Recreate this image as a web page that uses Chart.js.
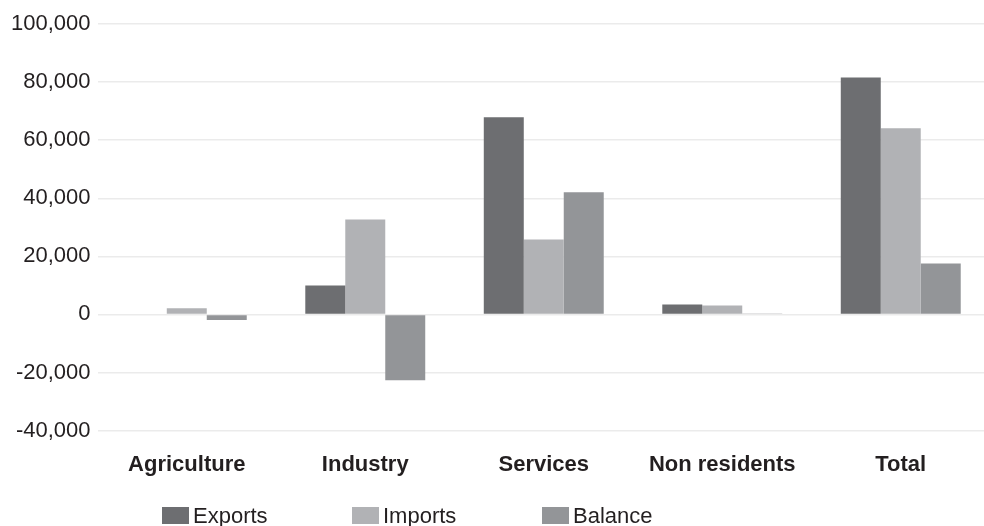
<!DOCTYPE html>
<html>
<head>
<meta charset="utf-8">
<script src="https://cdn.jsdelivr.net/npm/chart.js@4/dist/chart.umd.min.js"></script>
<style>
  html, body { margin: 0; padding: 0; background: #fff; overflow: hidden; }
  #wrap { position: relative; width: 990px; height: 526px; }
  #legend { position: absolute; left: 162px; top: 505px; display: flex;
            font-family: "Liberation Sans", Arial, sans-serif; font-size: 22px; line-height: 22px; color: #231f20; }
  #legend .item { display: flex; align-items: flex-start; width: 190px; }
  #legend .box { width: 27px; height: 17px; margin-top: 2px; margin-right: 4px; }
</style>
</head>
<body>
<div id="wrap">
  <canvas id="chart"></canvas>
  <div id="legend"></div>
</div>
<script>
const categories = ['Agriculture', 'Industry', 'Services', 'Non residents', 'Total'];
const exportsData = [200, 10000, 67900, 3400, 81600];
const importsData = [2100, 32700, 25800, 3100, 64100];
const balanceData = [-1900, -22700, 42100, 300, 17500];
const yTicks = { min: -40000, max: 100000, step: 20000 };

const textColor = '#231f20';
const fontFamily = '"Liberation Sans", Arial, sans-serif';

// builds the legend under the canvas from the datasets
const htmlLegend = {
    id: 'htmlLegend',
    afterUpdate(chart) {
        const legend = document.getElementById('legend');
        legend.innerHTML = '';
        chart.data.datasets.forEach(ds => {
            const item = document.createElement('div');
            item.className = 'item';
            item.innerHTML = `<span class="box" style="background:${ds.backgroundColor}"></span><span>${ds.label}</span>`;
            legend.appendChild(item);
        });
    }
};

const ctx = document.getElementById('chart').getContext('2d');
new Chart(ctx, {
    type: 'bar',
    data: {
        labels: categories,
        datasets: [
            { label: 'Exports', data: exportsData, backgroundColor: '#6d6e71' },
            { label: 'Imports', data: importsData, backgroundColor: '#b1b2b5' },
            { label: 'Balance', data: balanceData, backgroundColor: '#939598' }
        ]
    },
    options: {
        responsive: true,
        maintainAspectRatio: false,
        animation: false,
        layout: { padding: { left: 4, top: 24, right: 0, bottom: 35 } },
        datasets: { bar: { barPercentage: 1, categoryPercentage: 0.672 } },
        plugins: {
            legend: { display: false },
            tooltip: { enabled: false }
        },
        scales: {
            x: {
                grid: { display: false },
                border: { display: false },
                ticks: {
                    color: textColor,
                    padding: 13,
                    font: { family: fontFamily, size: 22, weight: 'bold' }
                }
            },
            y: {
                min: yTicks.min,
                max: yTicks.max,
                grid: { color: '#ebebeb', lineWidth: 1.5, drawTicks: false },
                border: { display: false },
                ticks: {
                    stepSize: yTicks.step,
                    color: textColor,
                    padding: 7,
                    font: { family: fontFamily, size: 22 },
                    callback: v => v.toLocaleString('en-US')
                }
            }
        }
    },
    plugins: [htmlLegend]
});
</script>
</body>
</html>
